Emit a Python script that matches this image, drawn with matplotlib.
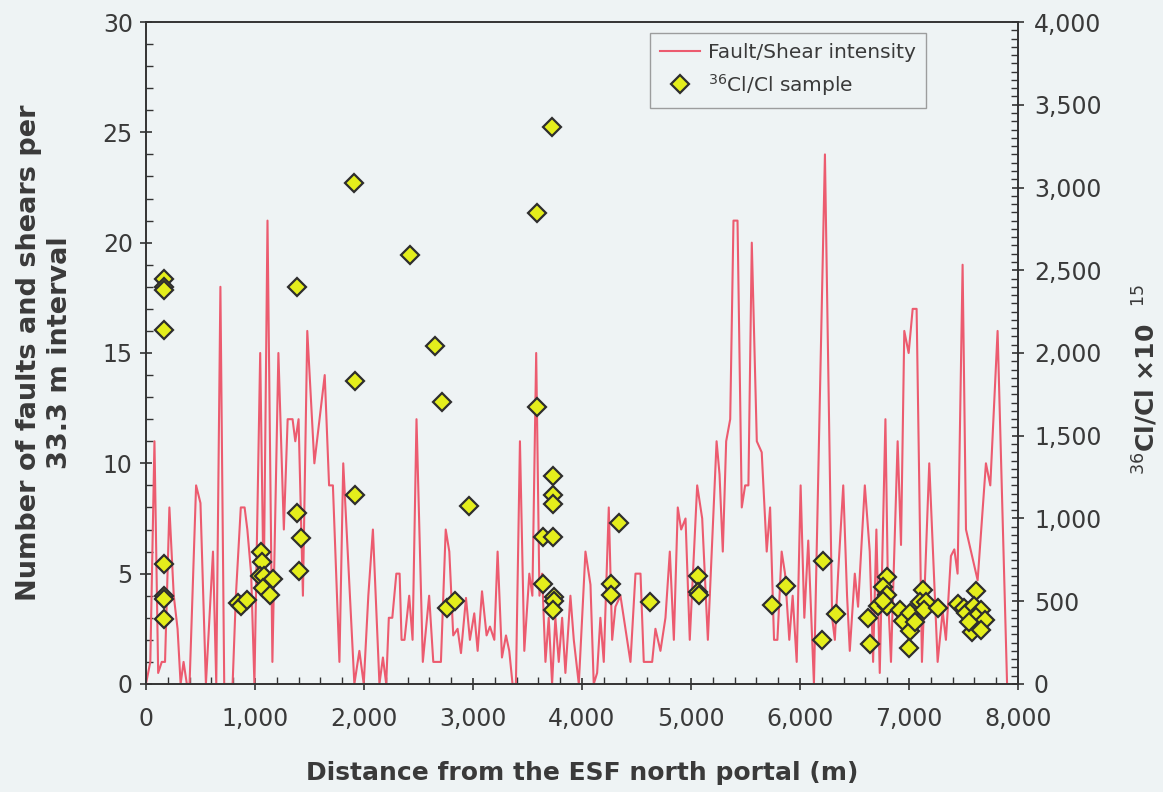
import matplotlib
matplotlib.use("Agg")
import matplotlib.pyplot as plt
from matplotlib.ticker import MultipleLocator, FuncFormatter

# ---- Fault/Shear intensity (distance m, count per 33.3 m) ----
fault_x = [0, 40, 78, 112, 145, 175, 215, 255, 290, 318, 345, 375, 400, 460, 500, 550,
           615, 645, 683, 718, 795, 825, 870, 905, 930, 965, 995, 1048, 1080, 1115, 1160,
           1215, 1265, 1300, 1345, 1370, 1400, 1440, 1480, 1545, 1640, 1680, 1715, 1775,
           1810, 1912, 1958, 1998, 2040, 2082, 2142, 2174, 2204, 2228, 2260, 2297, 2327,
           2345, 2372, 2415, 2446, 2482, 2540, 2598, 2636, 2706, 2750, 2783, 2819, 2859,
           2890, 2936, 2972, 3012, 3043, 3083, 3125, 3156, 3196, 3226, 3266, 3303, 3333,
           3363, 3394, 3431, 3471, 3517, 3545, 3580, 3610, 3634, 3665, 3695, 3726, 3756,
           3787, 3818, 3848, 3894, 3925, 3971, 4001, 4032, 4078, 4108, 4139, 4169, 4200,
           4246, 4277, 4307, 4353, 4399, 4445, 4491, 4537, 4567, 4644, 4674, 4720, 4766,
           4806, 4843, 4879, 4910, 4950, 4989, 5057, 5103, 5155, 5235, 5262, 5292, 5323,
           5360, 5390, 5427, 5466, 5497, 5527, 5558, 5604, 5649, 5695, 5726, 5762, 5793,
           5832, 5863, 5902, 5933, 5970, 6006, 6040, 6076, 6128, 6229, 6295, 6320, 6350,
           6397, 6432, 6457, 6503, 6533, 6595, 6640, 6671, 6701, 6732, 6784, 6808, 6835,
           6896, 6927, 6957, 6997, 7034, 7070, 7119, 7186, 7263, 7309, 7339, 7385, 7416,
           7446, 7492, 7523, 7630, 7706, 7746, 7813, 7900]
fault_y = [0, 1, 11, 0.5, 1, 1, 8, 4, 2.5, 0, 1, 0, 0, 9, 8.2, 0,
           6, 0, 18, 0, 0, 4, 8, 8, 7, 5, 0, 15, 4, 21, 1,
           15, 7, 12, 12, 11, 12, 4, 16, 10, 14, 9, 9, 1,
           10, 0, 1.5, 0, 4, 7, 0, 1.2, 0, 3, 3, 5, 5,
           2, 2, 4, 2, 12, 1, 4, 1, 1, 7, 6, 2.2, 2.5,
           1.4, 3.9, 2, 3.2, 1.5, 4.2, 2.2, 2.6, 2, 6, 1.2, 2.2, 1.5,
           0, 0, 11, 1.5, 5, 4, 15, 4, 5, 1, 3, 0, 3,
           1, 3, 0.5, 4, 2, 0, 3, 6, 4.5, 0, 0.5, 3, 1,
           8, 2, 3.5, 4, 2.5, 1, 5, 5, 1, 1, 2.5, 1.5, 3,
           6, 2, 8, 7, 7.5, 2, 9, 7.5, 2, 11, 9.5, 6, 11,
           12, 21, 21, 8, 9, 9, 20, 11, 10.5, 6, 8, 2, 2,
           6, 5, 2, 4, 1, 9, 3, 6.5, 0, 24, 3, 2, 5,
           9, 4, 1.5, 5, 3.5, 9, 6, 1, 7, 0.5, 12, 4, 1,
           11, 6.3, 16, 15, 17, 17, 1, 10, 1, 3.3, 2, 5.8, 6.1,
           5, 19, 7, 4.7, 10, 9, 16, 0]

# ---- 36Cl/Cl samples (distance m, ratio x1e15) ----
cl_x = [165, 165, 165, 165, 165, 165, 168, 165,
        840, 875, 930,
        1060, 1068, 1048, 1080, 1075, 1140, 1170,
        1385, 1390, 1420, 1405,
        1910, 1915, 1918,
        2420, 2655, 2715, 2760, 2838, 2966,
        3588, 3590, 3725, 3645, 3735, 3735, 3735, 3640, 3735, 3740, 3740, 3735,
        4262, 4262, 4340, 4620,
        5065, 5065, 5070, 5740, 5875,
        6215, 6205, 6330, 6625, 6640,
        6795, 6760, 6800, 6720, 6800, 6765,
        6915, 6945, 7005, 7005, 7000, 7052,
        7128, 7100, 7160, 7135, 7266,
        7449, 7505, 7525, 7616, 7600, 7662, 7616, 7702, 7580, 7662, 7555]
cl_v = [2450, 2400, 2380, 2140, 725, 530, 515, 390,
        490, 470, 510,
        800, 740, 655, 650, 580, 540, 635,
        2400, 1035, 880, 680,
        3027, 1831, 1143,
        2590, 2042, 1706, 462, 504, 1078,
        2845, 1674, 3366, 605, 1254, 1140, 1085, 888, 888, 528, 500, 450,
        605, 535, 975, 495,
        650, 555, 535, 480, 590,
        745, 268, 425, 400, 240,
        645, 585, 540, 470, 470, 500,
        450, 380, 430, 320, 220, 375,
        568, 495, 495, 450, 461,
        483, 461, 429, 562, 471, 450, 405, 387, 314, 326, 375]

x_ticks = [0, 1000, 2000, 3000, 4000, 5000, 6000, 7000, 8000]
left_ticks = [0, 5, 10, 15, 20, 25, 30]
right_ticks = [0, 500, 1000, 1500, 2000, 2500, 3000, 3500, 4000]

bg = "#eef3f4"
txt = "#3a3a3a"
plt.rcParams["font.family"] = ["DejaVu Sans"]

fig = plt.figure(figsize=(11.63, 7.92), dpi=100, facecolor=bg)
ax = fig.add_axes([0.1255, 0.1364, 0.7498, 0.8358], facecolor=bg)
ax2 = ax.twinx()

ln, = ax.plot(fault_x, fault_y, color="#ec5b6f", lw=1.5, label="Fault/Shear intensity", zorder=2)
sc, = ax2.plot(cl_x, cl_v, ls="none", marker="D", ms=8.8, mfc="#e4ee1c", mec="#2e2e2e",
               mew=1.6, label="$^{36}$Cl/Cl sample", zorder=3)

ax.set_xlim(0, 8000)
ax.set_ylim(0, 30)
ax2.set_ylim(0, 4000)
ax.set_xticks(x_ticks)
ax.set_yticks(left_ticks)
ax2.set_yticks(right_ticks)
ax.xaxis.set_minor_locator(MultipleLocator(200))
ax.yaxis.set_minor_locator(MultipleLocator(1))
ax2.yaxis.set_minor_locator(MultipleLocator(50))
comma = FuncFormatter(lambda v, p: f"{int(v):,}")
ax.xaxis.set_major_formatter(comma)
ax2.yaxis.set_major_formatter(comma)

for a in (ax, ax2):
    for s in a.spines.values():
        s.set_color("#333333")
        s.set_linewidth(1.2)
    a.tick_params(which="major", direction="inout", length=9, width=1.2, color="#333333",
                  labelsize=17, labelcolor=txt)
    a.tick_params(which="minor", direction="in", length=5, width=1, color="#333333")
ax.tick_params(axis="x", pad=12)
ax.tick_params(axis="y", pad=5)
ax2.tick_params(axis="y", pad=7)

ax.set_xlabel("Distance from the ESF north portal (m)", fontsize=18, fontweight="bold",
              color=txt, labelpad=22)
ax.set_ylabel("Number of faults and shears per\n33.3 m interval", fontsize=19.5,
              fontweight="bold", color=txt, labelpad=21, linespacing=1.25)
ax2.set_ylabel("$^{36}$Cl/Cl ×10  $^{15}$", fontsize=18, fontweight="bold", color=txt,
               rotation=90)
ax2.yaxis.set_label_coords(1.129, 0.46)

leg = ax2.legend(handles=[ln, sc], loc="upper right", bbox_to_anchor=(0.895, 0.984),
                 borderaxespad=0, fontsize=14.5, frameon=True, fancybox=False, facecolor=bg,
                 edgecolor="#888888", handlelength=2.0, handletextpad=0.4,
                 borderpad=0.5, labelspacing=0.5)
leg.get_frame().set_linewidth(1.0)
for t in leg.get_texts():
    t.set_color(txt)

fig.savefig("out.png", dpi=100, facecolor=bg)
